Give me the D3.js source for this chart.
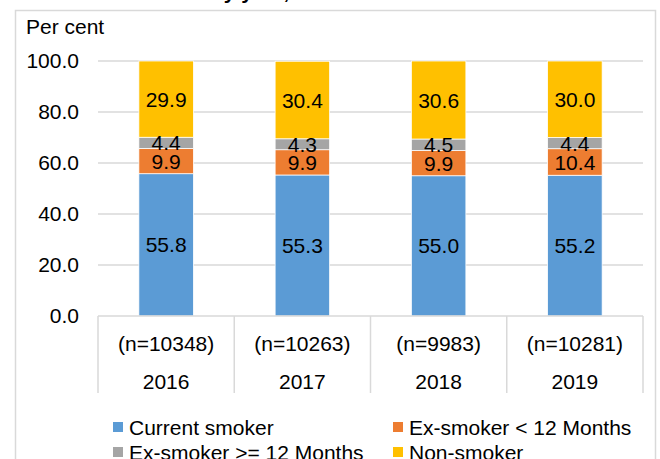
<!DOCTYPE html>
<html>
<head>
<meta charset="utf-8">
<script src="https://cdn.jsdelivr.net/npm/d3@7"></script>
<style>
  html, body { margin: 0; padding: 0; background: #fff; }
  svg { display: block; font-family: "Liberation Sans", Arial, sans-serif; }
</style>
</head>
<body>
<svg id="chart" width="660" height="459"></svg>
<script>
const years = ["2016", "2017", "2018", "2019"];
const sampleSizes = ["(n=10348)", "(n=10263)", "(n=9983)", "(n=10281)"];
const seriesNames = ["Current smoker", "Ex-smoker < 12 Months", "Ex-smoker >= 12 Months", "Non-smoker"];
const currentSmoker = [55.8, 55.3, 55.0, 55.2];
const exSmokerUnder12 = [9.9, 9.9, 9.9, 10.4];
const exSmokerOver12 = [4.4, 4.3, 4.5, 4.4];
const nonSmoker = [29.9, 30.4, 30.6, 30.0];
const yTicks = [0, 20, 40, 60, 80, 100];
const colors = ["#5B9BD5", "#ED7D31", "#A5A5A5", "#FFC000"];

const seriesValues = [currentSmoker, exSmokerUnder12, exSmokerOver12, nonSmoker];
const rows = years.map((y, i) => {
  const r = { year: y };
  seriesNames.forEach((s, k) => r[s] = seriesValues[k][i]);
  return r;
});

const svg = d3.select("#chart");
const fontSize = 21;
const gridColor = "#d9d9d9";

// partially visible title above the chart frame
svg.append("text")
  .attr("x", 211).attr("y", -1)
  .attr("font-size", fontSize).attr("font-weight", "bold")
  .attr("fill", "#000")
  .text("by year,");

// chart frame
svg.append("rect")
  .attr("x", 15.5).attr("y", 10.5)
  .attr("width", 640).attr("height", 470)
  .attr("fill", "none").attr("stroke", gridColor).attr("stroke-width", 1.5);

const x = d3.scaleBand().domain(years).range([98, 643]).paddingInner(0.6).paddingOuter(0.3);
const xb = d3.scaleBand().domain(years).range([98, 643]).padding(0);
const y = d3.scaleLinear().domain([0, 100]).range([316, 61]);

// gridlines
svg.append("g").selectAll("line").data(yTicks.filter(t => t > 0)).join("line")
  .attr("x1", 98).attr("x2", 643)
  .attr("y1", d => y(d)).attr("y2", d => y(d))
  .attr("stroke", gridColor).attr("stroke-width", 1.5);

// y tick labels
const yAxis = d3.axisLeft(y).tickValues(yTicks).tickFormat(d3.format(".1f")).tickSize(0).tickPadding(0);
const yg = svg.append("g").attr("transform", "translate(79,0)").call(yAxis);
yg.select(".domain").remove();
yg.selectAll("text").attr("font-size", fontSize).attr("fill", "#000")
  .attr("font-family", "Liberation Sans, Arial, sans-serif");

svg.append("text")
  .attr("x", 26).attr("y", 34)
  .attr("font-size", fontSize).attr("fill", "#000")
  .text("Per cent");

// stacked bars
const stack = d3.stack().keys(seriesNames)(rows);
const layers = svg.append("g").selectAll("g").data(stack).join("g")
  .attr("fill", (d, i) => colors[i]);
layers.selectAll("rect").data(d => d).join("rect")
  .attr("x", d => x(d.data.year))
  .attr("width", x.bandwidth())
  .attr("y", d => y(d[1]))
  .attr("height", d => y(d[0]) - y(d[1]))
  .attr("stroke", "#fff").attr("stroke-width", 0.75);

// data labels
const labelG = svg.append("g");
stack.forEach(layer => {
  labelG.selectAll(null).data(layer).join("text")
    .attr("x", d => x(d.data.year) + x.bandwidth() / 2)
    .attr("y", d => (y(d[0]) + y(d[1])) / 2)
    .attr("dy", "0.36em")
    .attr("text-anchor", "middle")
    .attr("font-size", fontSize).attr("fill", "#000")
    .text(d => d3.format(".1f")(d.data[layer.key]));
});

// x axis line and category separators
svg.append("line")
  .attr("x1", 98).attr("x2", 643).attr("y1", y(0)).attr("y2", y(0))
  .attr("stroke", gridColor).attr("stroke-width", 1.5);
const bounds = years.map(d => xb(d)).concat([xb(years[years.length - 1]) + xb.bandwidth()]);
svg.append("g").selectAll("line").data(bounds).join("line")
  .attr("x1", d => d).attr("x2", d => d)
  .attr("y1", y(0)).attr("y2", 393)
  .attr("stroke", gridColor).attr("stroke-width", 1.5);

// two-level category labels
svg.append("g").selectAll("text").data(years).join("text")
  .attr("x", d => xb(d) + xb.bandwidth() / 2)
  .attr("y", 343).attr("dy", "0.36em")
  .attr("text-anchor", "middle").attr("font-size", fontSize).attr("fill", "#000")
  .text((d, i) => sampleSizes[i]);
svg.append("g").selectAll("text").data(years).join("text")
  .attr("x", d => xb(d) + xb.bandwidth() / 2)
  .attr("y", 381).attr("dy", "0.36em")
  .attr("text-anchor", "middle").attr("font-size", fontSize).attr("fill", "#000")
  .text(d => d);

// legend
const legendPos = [[113, 427], [393, 427], [113, 452], [393, 452]];
const lg = svg.append("g").selectAll("g").data(seriesNames).join("g")
  .attr("transform", (d, i) => `translate(${legendPos[i][0]},${legendPos[i][1]})`);
lg.append("rect").attr("x", 0).attr("y", -5).attr("width", 10).attr("height", 10)
  .attr("fill", (d, i) => colors[i]);
lg.append("text").attr("x", 16).attr("y", 0).attr("dy", "0.36em")
  .attr("font-size", fontSize).attr("fill", "#000")
  .text(d => d);
</script>
</body>
</html>
